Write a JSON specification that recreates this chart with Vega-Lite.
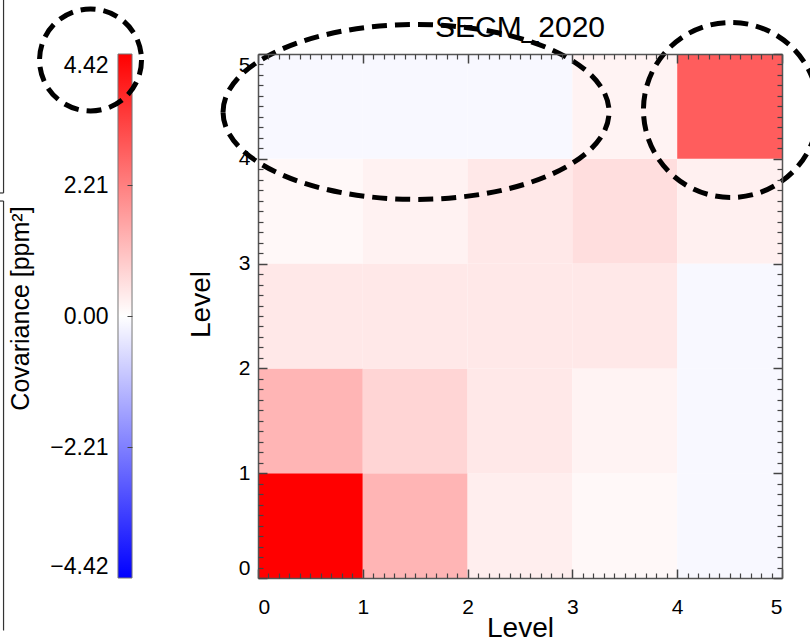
{
  "$schema": "https://vega.github.io/schema/vega-lite/v6.json",
  "autosize": {"type": "none"},
  "padding": {"left": 258, "top": 54, "right": 28, "bottom": 66},
  "width": 524,
  "height": 524,
  "background": "white",
  "title": {"text": "SECM_2020", "frame": "group", "anchor": "middle", "baseline": "alphabetic", "offset": 0, "dy": 76, "fontSize": 30, "font": "Liberation Sans", "fontWeight": "normal", "color": "#000"},
  "config": {
    "view": {"stroke": null},
    "axis": {"grid": false, "ticks": true, "tickColor": "#444", "tickWidth": 1.5, "domainColor": "#555", "domainWidth": 1.5, "labelFont": "Liberation Sans", "labelColor": "#000", "labelFontSize": 21, "titleFont": "Liberation Sans", "titleFontWeight": "normal", "titleColor": "#000", "titleFontSize": 28}
  },
  "datasets": {
    "cells": [
      {"x0": 0, "x1": 1, "y0": 0, "y1": 1, "cov": 4.42},
      {"x0": 1, "x1": 2, "y0": 0, "y1": 1, "cov": 1.28},
      {"x0": 2, "x1": 3, "y0": 0, "y1": 1, "cov": 0.29},
      {"x0": 3, "x1": 4, "y0": 0, "y1": 1, "cov": 0.12},
      {"x0": 4, "x1": 5, "y0": 0, "y1": 1, "cov": -0.12},
      {"x0": 0, "x1": 1, "y0": 1, "y1": 2, "cov": 1.28},
      {"x0": 1, "x1": 2, "y0": 1, "y1": 2, "cov": 0.73},
      {"x0": 2, "x1": 3, "y0": 1, "y1": 2, "cov": 0.4},
      {"x0": 3, "x1": 4, "y0": 1, "y1": 2, "cov": 0.2},
      {"x0": 4, "x1": 5, "y0": 1, "y1": 2, "cov": -0.12},
      {"x0": 0, "x1": 1, "y0": 2, "y1": 3, "cov": 0.4},
      {"x0": 1, "x1": 2, "y0": 2, "y1": 3, "cov": 0.4},
      {"x0": 2, "x1": 3, "y0": 2, "y1": 3, "cov": 0.4},
      {"x0": 3, "x1": 4, "y0": 2, "y1": 3, "cov": 0.4},
      {"x0": 4, "x1": 5, "y0": 2, "y1": 3, "cov": -0.12},
      {"x0": 0, "x1": 1, "y0": 3, "y1": 4, "cov": 0.12},
      {"x0": 1, "x1": 2, "y0": 3, "y1": 4, "cov": 0.22},
      {"x0": 2, "x1": 3, "y0": 3, "y1": 4, "cov": 0.4},
      {"x0": 3, "x1": 4, "y0": 3, "y1": 4, "cov": 0.57},
      {"x0": 4, "x1": 5, "y0": 3, "y1": 4, "cov": 0.26},
      {"x0": 0, "x1": 1, "y0": 4, "y1": 5, "cov": -0.12},
      {"x0": 1, "x1": 2, "y0": 4, "y1": 5, "cov": -0.12},
      {"x0": 2, "x1": 3, "y0": 4, "y1": 5, "cov": -0.12},
      {"x0": 3, "x1": 4, "y0": 4, "y1": 5, "cov": 0.2},
      {"x0": 4, "x1": 5, "y0": 4, "y1": 5, "cov": 2.8}
    ],
    "cbar": [{"x0": -1.336, "x1": -1.202, "lo": -4.42, "hi": 4.42}],
    "frame": [
      {"xa": -2.428, "xb": -2.428, "ya": 5.6, "yb": 3.674},
      {"xa": -2.5, "xb": -2.428, "ya": 3.674, "yb": 3.674},
      {"xa": -2.428, "xb": -2.428, "ya": 3.597, "yb": -0.5},
      {"xa": -2.5, "xb": -2.428, "ya": 3.597, "yb": 3.597}
    ],
    "anchor": [{"v": 0}]
  },
  "resolve": {"scale": {"y": "independent"}, "axis": {"x": "independent", "y": "independent"}},
  "layer": [
    {
      "data": {"name": "cells"},
      "mark": {"type": "rect"},
      "encoding": {
        "x": {"field": "x0", "type": "quantitative", "scale": {"domain": [0, 5], "nice": false, "zero": false},
          "axis": {"orient": "bottom", "zindex": 1, "values": [0, 1, 2, 3, 4, 5], "format": "d", "tickSize": -9, "labelPadding": 27, "title": "Level", "titlePadding": -3}},
        "x2": {"field": "x1"},
        "y": {"field": "y0", "type": "quantitative", "scale": {"domain": [0, 5], "nice": false, "zero": false},
          "axis": {"orient": "left", "zindex": 1, "values": [0, 1, 2, 3, 4, 5], "format": "d", "tickSize": -9, "labelPadding": 17, "labelFlush": true, "title": "Level", "titlePadding": 23, "titleY": 250}},
        "y2": {"field": "y1"},
        "color": {"field": "cov", "type": "quantitative", "scale": {"domain": [-4.42, 0, 4.42], "range": ["#0000ff", "#ffffff", "#ff0000"], "interpolate": "rgb"}, "legend": null}
      }
    },
    {
      "data": {"name": "anchor"},
      "mark": {"type": "point", "opacity": 0},
      "encoding": {
        "x": {"field": "v", "type": "quantitative", "scale": {"domain": [0, 5], "nice": false, "zero": false},
          "axis": {"orient": "top", "zindex": 1, "values": [0, 1, 2, 3, 4, 5], "tickSize": -9, "labels": false, "title": null}},
        "y": {"field": "v", "type": "quantitative", "scale": {"domain": [0, 5], "nice": false, "zero": false},
          "axis": {"orient": "right", "zindex": 1, "values": [0, 1, 2, 3, 4, 5], "tickSize": -9, "labels": false, "title": null}}
      }
    },
    {
      "data": {"name": "anchor"},
      "mark": {"type": "point", "opacity": 0},
      "encoding": {
        "x": {"field": "v", "type": "quantitative", "scale": {"domain": [0, 5], "nice": false, "zero": false},
          "axis": {"orient": "bottom", "zindex": 1, "values": [0.1,0.2,0.3,0.4,0.5,0.6,0.7,0.8,0.9,1.1,1.2,1.3,1.4,1.5,1.6,1.7,1.8,1.9,2.1,2.2,2.3,2.4,2.5,2.6,2.7,2.8,2.9,3.1,3.2,3.3,3.4,3.5,3.6,3.7,3.8,3.9,4.1,4.2,4.3,4.4,4.5,4.6,4.7,4.8,4.9], "tickSize": -5, "tickWidth": 1.2, "labels": false, "domain": false, "title": null}},
        "y": {"field": "v", "type": "quantitative", "scale": {"domain": [0, 5], "nice": false, "zero": false},
          "axis": {"orient": "left", "zindex": 1, "values": [0.1,0.2,0.3,0.4,0.5,0.6,0.7,0.8,0.9,1.1,1.2,1.3,1.4,1.5,1.6,1.7,1.8,1.9,2.1,2.2,2.3,2.4,2.5,2.6,2.7,2.8,2.9,3.1,3.2,3.3,3.4,3.5,3.6,3.7,3.8,3.9,4.1,4.2,4.3,4.4,4.5,4.6,4.7,4.8,4.9], "tickSize": -5, "tickWidth": 1.2, "labels": false, "domain": false, "title": null}}
      }
    },
    {
      "data": {"name": "anchor"},
      "mark": {"type": "point", "opacity": 0},
      "encoding": {
        "x": {"field": "v", "type": "quantitative", "scale": {"domain": [0, 5], "nice": false, "zero": false},
          "axis": {"orient": "top", "zindex": 1, "values": [0.1,0.2,0.3,0.4,0.5,0.6,0.7,0.8,0.9,1.1,1.2,1.3,1.4,1.5,1.6,1.7,1.8,1.9,2.1,2.2,2.3,2.4,2.5,2.6,2.7,2.8,2.9,3.1,3.2,3.3,3.4,3.5,3.6,3.7,3.8,3.9,4.1,4.2,4.3,4.4,4.5,4.6,4.7,4.8,4.9], "tickSize": -5, "tickWidth": 1.2, "labels": false, "domain": false, "title": null}},
        "y": {"field": "v", "type": "quantitative", "scale": {"domain": [0, 5], "nice": false, "zero": false},
          "axis": {"orient": "right", "zindex": 1, "values": [0.1,0.2,0.3,0.4,0.5,0.6,0.7,0.8,0.9,1.1,1.2,1.3,1.4,1.5,1.6,1.7,1.8,1.9,2.1,2.2,2.3,2.4,2.5,2.6,2.7,2.8,2.9,3.1,3.2,3.3,3.4,3.5,3.6,3.7,3.8,3.9,4.1,4.2,4.3,4.4,4.5,4.6,4.7,4.8,4.9], "tickSize": -5, "tickWidth": 1.2, "labels": false, "domain": false, "title": null}}
      }
    },
    {
      "data": {"name": "cbar"},
      "mark": {"type": "rect", "fill": {"gradient": "linear", "x1": 0, "y1": 0, "x2": 0, "y2": 1, "stops": [{"offset": 0, "color": "#ff0000"}, {"offset": 0.5, "color": "#ffffff"}, {"offset": 1, "color": "#0000ff"}]}},
      "encoding": {
        "x": {"field": "x0", "type": "quantitative", "scale": {"domain": [0, 5], "nice": false, "zero": false}, "axis": null},
        "x2": {"field": "x1"},
        "y": {"field": "lo", "type": "quantitative", "scale": {"domain": [-4.42, 4.42], "nice": false, "zero": false},
          "axis": {"orient": "right", "zindex": 1, "offset": -650, "values": [-2.21, 0, 2.21], "tickSize": -5, "tickWidth": 1, "labels": false, "domain": false, "title": null}},
        "y2": {"field": "hi"}
      }
    },
    {
      "data": {"name": "cbar"},
      "mark": {"type": "rect", "fillOpacity": 0, "stroke": "#777", "strokeWidth": 1},
      "encoding": {
        "x": {"field": "x0", "type": "quantitative", "scale": {"domain": [0, 5], "nice": false, "zero": false}, "axis": null},
        "x2": {"field": "x1"},
        "y": {"field": "lo", "type": "quantitative", "scale": {"domain": [-4.42, 4.42], "nice": false, "zero": false},
          "axis": {"orient": "left", "zindex": 1, "offset": 140, "values": [-4.42, -2.21, 0, 2.21, 4.42], "format": ".2f", "ticks": false, "domain": false, "labelFlush": true, "labelPadding": 10, "labelFontSize": 23, "title": "Covariance [ppm²]", "titleFontSize": 25, "titlePadding": 16, "titleY": 254}},
        "y2": {"field": "hi"}
      }
    },
    {
      "data": {"name": "frame"},
      "mark": {"type": "rule", "color": "#333", "strokeWidth": 1.2},
      "encoding": {
        "x": {"field": "xa", "type": "quantitative", "scale": {"domain": [0, 5], "nice": false, "zero": false}, "axis": null},
        "x2": {"field": "xb"},
        "y": {"field": "ya", "type": "quantitative", "scale": {"domain": [0, 5], "nice": false, "zero": false}, "axis": null},
        "y2": {"field": "yb"}
      }
    },
    {
      "data": {"values": [{"cx": 1.508, "cy": 4.447}]},
      "mark": {"type": "point", "shape": "M-1,0A1,0.453,0,1,1,1,0A1,0.453,0,1,1,-1,0Z", "size": 148996, "filled": false, "stroke": "#000", "strokeWidth": 5, "strokeDash": [15, 8], "opacity": 1},
      "encoding": {
        "x": {"field": "cx", "type": "quantitative", "scale": {"domain": [0, 5], "nice": false, "zero": false}, "axis": null},
        "y": {"field": "cy", "type": "quantitative", "scale": {"domain": [0, 5], "nice": false, "zero": false}, "axis": null}
      }
    },
    {
      "data": {"values": [{"cx": 4.513, "cy": 4.466}]},
      "mark": {"type": "point", "shape": "circle", "size": 30625, "filled": false, "stroke": "#000", "strokeWidth": 5, "strokeDash": [15, 8], "opacity": 1},
      "encoding": {
        "x": {"field": "cx", "type": "quantitative", "scale": {"domain": [0, 5], "nice": false, "zero": false}, "axis": null},
        "y": {"field": "cy", "type": "quantitative", "scale": {"domain": [0, 5], "nice": false, "zero": false}, "axis": null}
      }
    },
    {
      "data": {"values": [{"cx": -1.598, "cy": 4.943}]},
      "mark": {"type": "point", "shape": "circle", "size": 10404, "filled": false, "stroke": "#000", "strokeWidth": 5, "strokeDash": [15, 8], "opacity": 1},
      "encoding": {
        "x": {"field": "cx", "type": "quantitative", "scale": {"domain": [0, 5], "nice": false, "zero": false}, "axis": null},
        "y": {"field": "cy", "type": "quantitative", "scale": {"domain": [0, 5], "nice": false, "zero": false}, "axis": null}
      }
    }
  ]
}
